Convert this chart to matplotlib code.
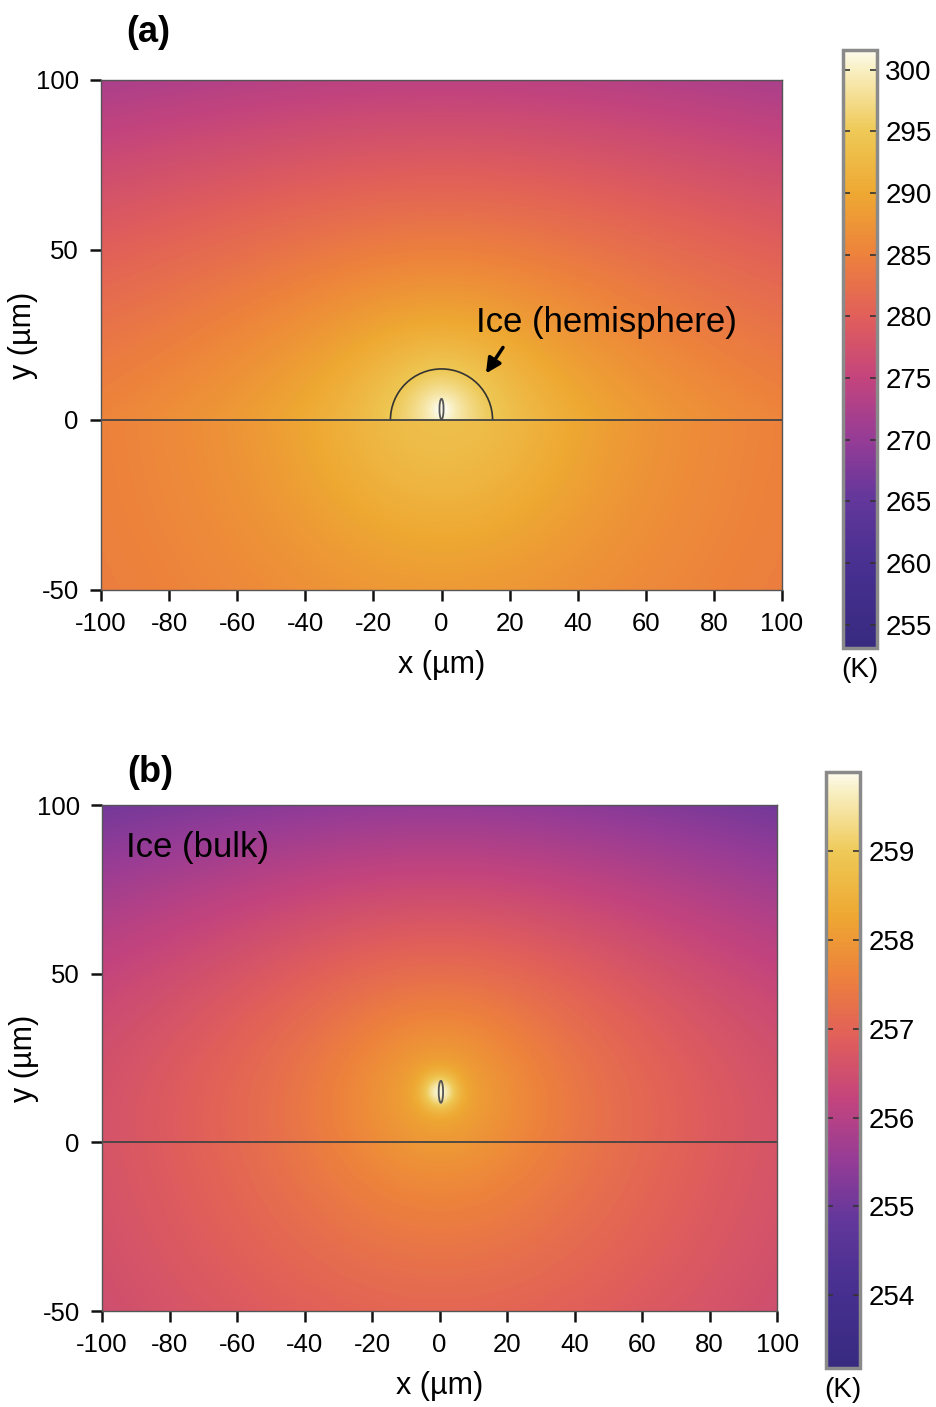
import matplotlib
matplotlib.use("Agg")
import matplotlib.pyplot as plt
import numpy as np
from matplotlib.colors import LinearSegmentedColormap
from matplotlib.patches import Arc, Ellipse

plt.rcParams['font.family'] = ['Liberation Sans', 'DejaVu Sans']
plt.rcParams['axes.unicode_minus'] = False

# colour scale
cmap_pos = [0.0, 0.14, 0.25, 0.35, 0.45, 0.555, 0.66, 0.76, 0.865, 0.965, 1.0]
cmap_rgb = [(55, 42, 128), (72, 48, 145), (100, 55, 155), (150, 60, 150), (195, 68, 125),
            (225, 95, 90), (237, 130, 60), (238, 168, 50), (238, 200, 85), (248, 238, 190),
            (252, 250, 235)]

# panel (a) - ice hemisphere on substrate
range_a = [253.1, 301.6]
ticks_a = [255, 260, 265, 270, 275, 280, 285, 290, 295, 300]
src_a = [0.0, 3.0]                          # heat source centre (um)
ice_a = [285.5, 0.08, 0.00035, 5.8, 5.0]    # T at y=0 edge, lin/quad vertical drop, log amp, core
sub_a = [282.5, 11.2, 54.0]                 # far T, peak rise, width
hemi_r = 15.0
ell_a = [0.0, 3.2, 1.2, 6.0]                # x, y, w, h

# panel (b) - bulk ice
range_b = [253.18, 259.89]
ticks_b = [254, 255, 256, 257, 258, 259]
src_b = [0.0, 15.0]
ice_b = [256.6, 1.25e-4, 1.32, 30.0, 1.3, 5.0]  # T0, curvature, log amp, core, spot amp, spot width
sub_b = [256.65]
ell_b = [0.4, 15.0, 1.3, 6.5]

xticks = [-100, -80, -60, -40, -20, 0, 20, 40, 60, 80, 100]
yticks = [-50, 0, 50, 100]

cmap = LinearSegmentedColormap.from_list(
    'thermal', list(zip(cmap_pos, [tuple(c / 255 for c in rgb) for rgb in cmap_rgb])))

x = np.linspace(-100, 100, 601)
y = np.linspace(-50, 100, 451)
X, Y = np.meshgrid(x, y)


def field_a():
    r = np.hypot(X - src_a[0], Y - src_a[1])
    t_ice = (ice_a[0] - ice_a[1] * Y - ice_a[2] * Y ** 2
             + ice_a[3] * np.log((100 + ice_a[4]) / (r + ice_a[4])))
    t_sub = sub_a[0] + sub_a[1] / (1 + (r / sub_a[2]) ** 2)
    return np.where(Y >= 0, t_ice, t_sub)


def field_b():
    r = np.hypot(X - src_b[0], Y - src_b[1])
    base = ice_b[2] * np.log(130 / (r + ice_b[3]))
    t_ice = ice_b[0] - ice_b[1] * Y ** 2 + base + ice_b[4] * np.exp(-(r / ice_b[5]) ** 2)
    t_sub = sub_b[0] + base
    return np.where(Y >= 0, t_ice, t_sub)


def draw_panel(ax, cax, T, rng, ticks, ell):
    im = ax.imshow(T, origin='lower', extent=[-100, 100, -50, 100], cmap=cmap,
                   vmin=rng[0], vmax=rng[1], aspect='auto', interpolation='bilinear')
    ax.axhline(0, color='#444444', lw=1.3)
    ax.add_patch(Ellipse((ell[0], ell[1]), ell[2], ell[3], fill=False, ec='#555555', lw=1.3))
    ax.set_xlim(-100, 100)
    ax.set_ylim(-50, 100)
    ax.set_xticks(xticks)
    ax.set_yticks(yticks)
    ax.tick_params(labelsize=18.5, length=8, width=1.8, color='#111111', pad=8)
    for s in ax.spines.values():
        s.set_color('#555555')
        s.set_linewidth(1.0)
    ax.set_xlabel('x (µm)', fontsize=22, labelpad=10)
    ax.set_ylabel('y (µm)', fontsize=22, labelpad=-2)
    cb = plt.colorbar(im, cax=cax, ticks=ticks)
    cb.outline.set_edgecolor('#8a8a8a')
    cb.outline.set_linewidth(2.5)
    cax.tick_params(labelsize=20, direction='in', length=5, width=1.2, color='#333333',
                    left=True, right=True, pad=6)
    cax.text(0.5, -0.015, '(K)', transform=cax.transAxes, ha='center', va='top', fontsize=20)
    return cb


fig = plt.figure(figsize=(9.36, 14.07), dpi=100)
ax_a = fig.add_axes([0.1079, 0.5807, 0.7276, 0.3625])
cax_a = fig.add_axes([0.9006, 0.5394, 0.0363, 0.4250])
ax_b = fig.add_axes([0.1090, 0.0682, 0.7212, 0.3596])
cax_b = fig.add_axes([0.8825, 0.0277, 0.0363, 0.4236])

draw_panel(ax_a, cax_a, field_a(), range_a, ticks_a, ell_a)
ax_a.add_patch(Arc((0, 0), 2 * hemi_r, 2 * hemi_r, theta1=0, theta2=180, color='#333333', lw=1.2))
ax_a.annotate('', xy=(12.6, 13.0), xytext=(18.5, 22.0),
              arrowprops=dict(arrowstyle='-|>', color='black', lw=2.5, mutation_scale=22))
ax_a.text(10.0, 28.8, 'Ice (hemisphere)', fontsize=25, ha='left', va='center')

draw_panel(ax_b, cax_b, field_b(), range_b, ticks_b, ell_b)
ax_b.text(-93.0, 87.5, 'Ice (bulk)', fontsize=25, ha='left', va='center')

fig.text(148 / 936, 1 - 32 / 1407, '(a)', fontsize=26, fontweight='bold', ha='center', va='center')
fig.text(150 / 936, 1 - 773 / 1407, '(b)', fontsize=26, fontweight='bold', ha='center', va='center')

fig.savefig('out.png', dpi=100)
